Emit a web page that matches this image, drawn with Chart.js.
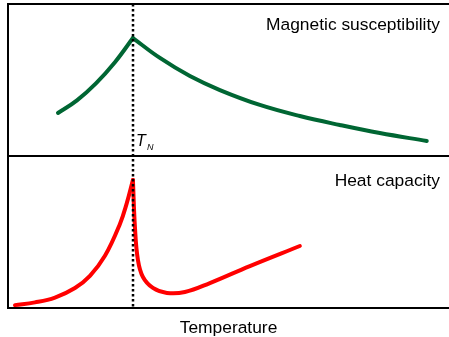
<!DOCTYPE html>
<html>
<head>
<meta charset="utf-8">
<script src="https://cdn.jsdelivr.net/npm/chart.js@4/dist/chart.umd.min.js"></script>
<style>
html,body{margin:0;padding:0;background:#fff;}
#wrap{width:449px;height:337px;}
</style>
</head>
<body>
<div id="wrap"><canvas id="c"></canvas></div>
<script>
// Temperature in units of T_N
const T_N = 1.0;
const T_MAX = 3.53;

// Magnetic susceptibility (arb. units)
const chiBelowT = [0.40, 0.552, 0.704, 0.856, 1.0];
const chiBelowV = [0.283, 0.366, 0.478, 0.617, 0.776];
const chiAboveT = [1.0, 1.216, 1.456, 1.696, 2.016, 2.336, 2.656, 2.976, 3.352];
const chiAboveV = [0.776, 0.645, 0.526, 0.434, 0.336, 0.263, 0.204, 0.151, 0.099];

// Heat capacity (arb. units)
const cBelowT = [0.056, 0.216, 0.376, 0.536, 0.656, 0.776, 0.896, 0.952, 1.0];
const cBelowV = [0.019, 0.037, 0.069, 0.132, 0.212, 0.343, 0.553, 0.693, 0.842];
const cAboveT = [1.0, 1.016, 1.04, 1.08, 1.16, 1.272, 1.416, 1.616, 1.936, 2.336];
const cAboveV = [0.842, 0.533, 0.316, 0.204, 0.132, 0.099, 0.105, 0.164, 0.276, 0.408];

const labels = {
  top: 'Magnetic susceptibility',
  bottom: 'Heat capacity',
  x: 'Temperature'
};

const GREEN = '#006633';
const RED = '#ff0000';

function pts(xs, ys){ return xs.map((x,i)=>({x:x, y:ys[i]})); }

function ds(xs, ys, color, axis, mono){
  const d = {
    data: pts(xs, ys), yAxisID: axis, borderColor: color, borderWidth: 4,
    pointRadius: 0, fill: false, tension: 0.4,
    borderCapStyle: 'round', borderJoinStyle: 'round'
  };
  if (mono) d.cubicInterpolationMode = 'monotone';
  return d;
}

const framePlugin = {
  id: 'frame',
  afterDatasetsDraw(chart){
    const ctx = chart.ctx, a = chart.chartArea;
    const xs = chart.scales.x, yb = chart.scales.yBot;
    const mid = yb.getPixelForValue(1);
    ctx.save();
    ctx.strokeStyle = '#000';
    ctx.lineWidth = 2;
    ctx.beginPath();
    ctx.moveTo(a.left, a.top); ctx.lineTo(a.right, a.top);
    ctx.moveTo(a.left, mid); ctx.lineTo(a.right, mid);
    ctx.moveTo(a.left, a.bottom); ctx.lineTo(a.right, a.bottom);
    ctx.moveTo(a.left, a.top - 1); ctx.lineTo(a.left, a.bottom + 1);
    ctx.stroke();
    // T_N dotted line
    const xn = Math.round(xs.getPixelForValue(T_N));
    ctx.lineWidth = 2.5;
    ctx.setLineDash([2.5, 2.5]);
    ctx.beginPath();
    ctx.moveTo(xn, a.top); ctx.lineTo(xn, a.bottom);
    ctx.stroke();
    ctx.setLineDash([]);
    // texts
    ctx.fillStyle = '#000';
    ctx.textBaseline = 'alphabetic';
    ctx.font = '17.4px "Liberation Sans", Arial, sans-serif';
    ctx.textAlign = 'right';
    ctx.fillText(labels.top, a.right - 9, a.top + 26);
    ctx.fillText(labels.bottom, a.right - 9, mid + 30);
    ctx.textAlign = 'center';
    ctx.fillText(labels.x, (a.left + a.right) / 2, a.bottom + 25);
    ctx.textAlign = 'left';
    ctx.font = 'italic 16px "Liberation Sans", Arial, sans-serif';
    ctx.fillText('T', xn + 3, mid - 10);
    ctx.font = 'italic 9px "Liberation Sans", Arial, sans-serif';
    ctx.fillText('N', xn + 14, mid - 6);
    ctx.restore();
  }
};

new Chart(document.getElementById('c'), {
  type: 'line',
  data: {
    datasets: [
      ds(chiBelowT, chiBelowV, GREEN, 'yTop', false),
      ds(chiAboveT, chiAboveV, GREEN, 'yTop', false),
      ds(cBelowT, cBelowV, RED, 'yBot', false),
      ds(cAboveT, cAboveV, RED, 'yBot', false)
    ]
  },
  options: {
    responsive: true,
    maintainAspectRatio: false,
    animation: false,
    layout: { padding: { left: 8, top: 4, right: 0, bottom: 29 } },
    plugins: { legend: { display: false }, tooltip: { enabled: false } },
    scales: {
      x: { type: 'linear', min: 0, max: T_MAX, display: false },
      yTop: { type: 'linear', min: -1, max: 1, display: false },
      yBot: { type: 'linear', min: 0, max: 2, display: false }
    }
  },
  plugins: [framePlugin]
});
</script>
</body>
</html>
